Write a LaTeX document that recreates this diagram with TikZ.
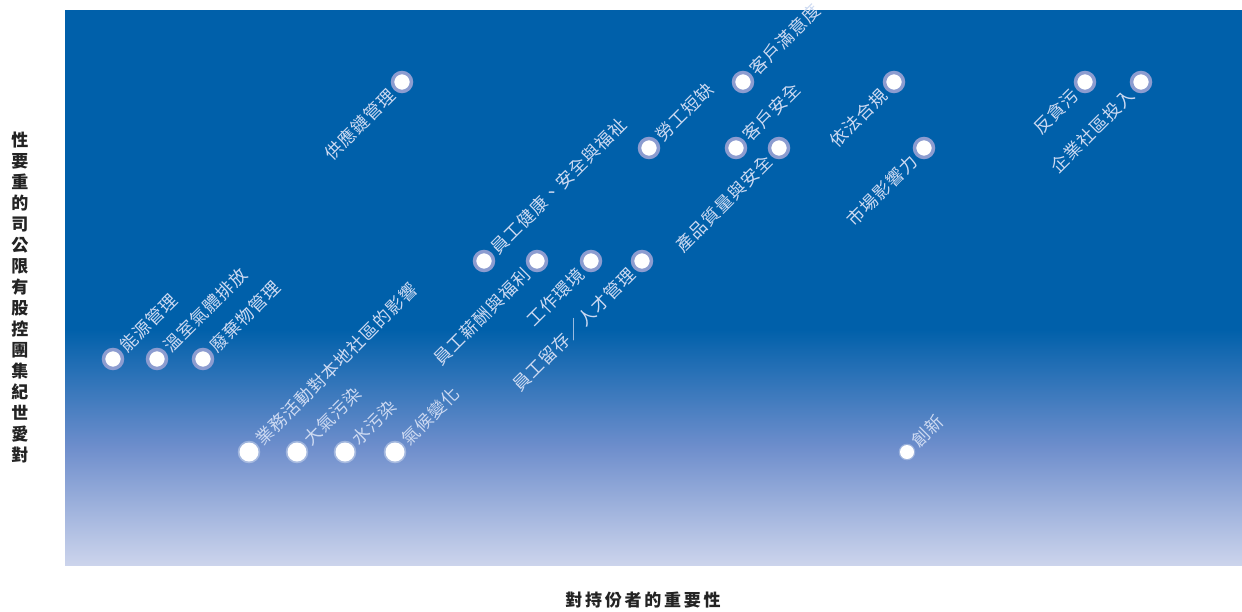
\documentclass[tikz,border=0pt]{standalone}
\usepackage{fontspec}
\setmainfont{Noto Sans CJK TC}
\newfontfamily\lblfont[LetterSpace=5]{Noto Sans CJK TC}
\newfontfamily\axisfont[LetterSpace=16]{Noto Sans CJK TC}
\definecolor{topblue}{RGB}{0,96,170}
\definecolor{midblue}{RGB}{110,142,204}
\definecolor{lowblue}{RGB}{204,212,236}
\definecolor{ringc}{RGB}{140,156,208}
\definecolor{lblc}{RGB}{205,218,242}
\definecolor{axisc}{RGB}{35,35,35}

\begin{document}
\begin{tikzpicture}[x=1pt,y=-1pt,
dot/.style={circle,fill=white,draw=ringc,line width=3.5pt,minimum size=19pt,inner sep=0pt},
lowdot/.style={dot,draw=white,draw opacity=0.35},
smalldot/.style={dot,draw=white,draw opacity=0.3,line width=2.5pt,minimum size=14pt},
lbl/.style={text=lblc,font=\lblfont\fontsize{17.5}{17.5}\selectfont,rotate=45,inner sep=3pt},
up/.style={lbl,anchor=west},
down/.style={lbl,anchor=east}]
\useasboundingbox (0,0) rectangle (1242,611);
% background
\fill[topblue] (65,10) rectangle (1242,330);
\shade[top color=topblue,bottom color=lowblue,middle color=midblue,shading angle=0] (65,329) rectangle (1242,565);

% circles
\node[dot] (energy) at (113,359) {};
\node[dot] (ghg) at (157,359) {};
\node[dot] (waste) at (203,359) {};
\node[lowdot] (commun) at (249,452) {};
\node[lowdot] (air) at (297,452) {};
\node[lowdot] (water) at (345,452) {};
\node[lowdot] (climate) at (395,452) {};
\node[dot] (supply) at (402,82) {};
\node[dot] (health) at (484,261) {};
\node[dot] (pay) at (537,261) {};
\node[dot] (workenv) at (591,261) {};
\node[dot] (talent) at (642,261) {};
\node[dot] (labour) at (649,148) {};
\node[dot] (satisf) at (743,82) {};
\node[dot] (custsafe) at (736,148) {};
\node[dot] (quality) at (779,148) {};
\node[dot] (comply) at (894,82) {};
\node[dot] (market) at (924,148) {};
\node[dot] (anticor) at (1085,82) {};
\node[dot] (invest) at (1141,82) {};
\node[smalldot] (innov) at (907,452) {};

% labels
\node[up] (energy-l) at (energy.45) {能源管理};
\node[up] (ghg-l) at (ghg.45) {溫室氣體排放};
\node[up] (waste-l) at (waste.45) {廢棄物管理};
\node[up] (commun-l) at (commun.45) {業務活動對本地社區的影響};
\node[up] (air-l) at (air.45) {大氣污染};
\node[up] (water-l) at (water.45) {水污染};
\node[up] (climate-l) at (climate.45) {氣候變化};
\node[down] (supply-l) at (supply.225) {供應鏈管理};
\node[up] (health-l) at (health.45) {員工健康、安全與福祉};
\node[down] (pay-l) at (pay.225) {員工薪酬與福利};
\node[down] (workenv-l) at (workenv.225) {工作環境};
\node[down] (talent-l) at (talent.225) {員工留存／人才管理};
\node[up] (labour-l) at (labour.45) {勞工短缺};
\node[up] (satisf-l) at (satisf.45) {客戶滿意度};
\node[up] (custsafe-l) at (custsafe.45) {客戶安全};
\node[down] (quality-l) at (quality.225) {產品質量與安全};
\node[down] (comply-l) at (comply.225) {依法合規};
\node[down] (market-l) at (market.225) {市場影響力};
\node[down] (anticor-l) at (anticor.225) {反貪污};
\node[down] (invest-l) at (invest.225) {企業社區投入};
\node[up] (innov-l) at (innov.45) {創新};

% axes
\node[text=axisc,font=\axisfont\bfseries\fontsize{17}{17}\selectfont] (xaxis) at (643,600) {對持份者的重要性};
\node[text=axisc,font=\bfseries\fontsize{17}{21}\selectfont,align=center,inner sep=0pt] (yaxis) at (20,298)
  {性\\要\\重\\的\\司\\公\\限\\有\\股\\控\\團\\集\\紀\\世\\愛\\對};
\end{tikzpicture}
\end{document}
